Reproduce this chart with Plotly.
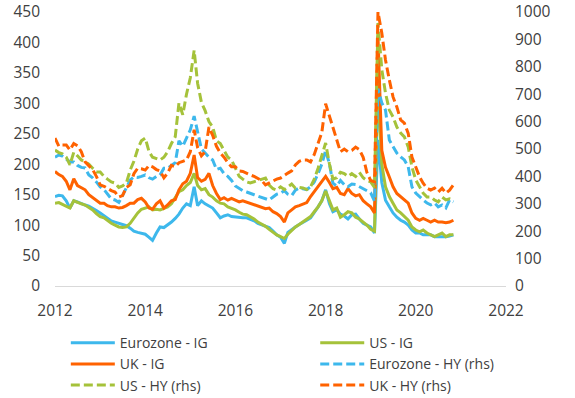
import pandas as pd
import plotly.graph_objects as go

dates = pd.date_range("2012-01-01", periods=107, freq="MS")

ez_ig = [147, 149, 148, 140, 128, 140, 138, 135, 133, 131, 128, 124, 120, 116, 111, 107, 105, 103, 101, 99,
         95, 90, 88, 86, 85, 80, 75, 87, 97, 96, 100, 105, 111, 118, 128, 135, 132, 163, 132, 140,
         135, 131, 128, 120, 112, 115, 117, 114, 113, 112, 112, 112, 110, 107, 103, 101, 99, 96, 90, 84,
         80, 70, 88, 93, 97, 101, 104, 108, 112, 120, 130, 140, 158, 135, 122, 125, 118, 115, 110, 117,
         118, 110, 103, 100, 97, 87, 240, 170, 141, 130, 120, 113, 108, 105, 100, 92, 87, 87, 84, 84,
         84, 81, 81, 80, 81, 82, 84]
us_ig = [136, 137, 134, 131, 128, 140, 137, 135, 133, 129, 125, 119, 114, 112, 107, 103, 100, 97, 96, 97,
         103, 112, 120, 126, 128, 130, 125, 126, 125, 128, 130, 135, 145, 155, 158, 165, 170, 185, 165, 158,
         160, 150, 146, 140, 136, 135, 130, 128, 125, 121, 118, 117, 114, 110, 105, 102, 98, 93, 88, 84,
         81, 78, 85, 92, 97, 101, 105, 109, 114, 122, 130, 140, 156, 140, 125, 128, 113, 117, 122, 120,
         113, 110, 105, 100, 93, 90, 330, 200, 163, 147, 136, 125, 120, 114, 108, 97, 92, 89, 92, 87,
         84, 81, 84, 87, 81, 84, 84]
uk_ig = [188, 183, 180, 172, 158, 176, 165, 162, 158, 150, 145, 141, 136, 136, 132, 130, 130, 128, 129, 132,
         136, 136, 142, 144, 138, 128, 126, 135, 140, 128, 133, 140, 142, 158, 168, 172, 185, 215, 178, 172,
         175, 185, 165, 152, 142, 145, 141, 144, 141, 138, 140, 138, 136, 134, 131, 130, 127, 128, 122, 119,
         114, 105, 120, 125, 130, 132, 134, 137, 147, 155, 163, 170, 180, 170, 160, 162, 152, 150, 160, 152,
         148, 150, 140, 135, 130, 120, 410, 223, 195, 179, 163, 152, 147, 141, 136, 120, 111, 108, 111, 108,
         105, 108, 105, 105, 104, 105, 108]
ez_hy = [470, 478, 474, 462, 453, 453, 440, 433, 431, 405, 395, 380, 362, 352, 335, 318, 314, 305, 330, 360,
         387, 398, 396, 400, 405, 395, 390, 400, 405, 430, 430, 440, 450, 530, 510, 540, 570, 620, 560, 500,
         485, 470, 460, 425, 430, 410, 400, 385, 365, 355, 348, 343, 339, 333, 328, 323, 318, 314, 325, 335,
         339, 348, 335, 330, 350, 358, 355, 352, 362, 380, 410, 445, 495, 445, 375, 365, 385, 370, 362, 372,
         370, 362, 355, 348, 340, 310, 720, 668, 642, 533, 507, 485, 471, 460, 435, 362, 339, 325, 314, 303,
         296, 303, 289, 296, 285, 314, 307]
us_hy = [496, 487, 482, 470, 442, 488, 475, 460, 453, 445, 430, 416, 416, 400, 390, 380, 376, 360, 365, 376,
         423, 455, 500, 530, 540, 490, 470, 465, 460, 470, 490, 520, 545, 668, 625, 700, 760, 860, 740, 670,
         640, 600, 580, 530, 520, 495, 470, 460, 430, 400, 390, 380, 376, 380, 386, 390, 394, 368, 355, 350,
         362, 352, 360, 372, 357, 360, 358, 352, 362, 390, 430, 475, 522, 445, 390, 395, 415, 410, 400, 410,
         400, 415, 395, 385, 380, 360, 960, 790, 704, 642, 617, 580, 558, 544, 507, 435, 387, 362, 339, 325,
         325, 314, 307, 325, 314, 318, 314]
uk_hy = [540, 510, 515, 515, 496, 520, 512, 490, 453, 440, 425, 400, 369, 364, 355, 348, 343, 325, 330, 360,
         369, 410, 430, 428, 423, 440, 435, 425, 420, 395, 412, 440, 435, 450, 455, 460, 490, 570, 505, 475,
         490, 580, 550, 510, 485, 470, 450, 435, 435, 420, 418, 410, 405, 400, 392, 385, 369, 376, 382, 390,
         394, 405, 412, 420, 442, 455, 460, 460, 453, 480, 520, 560, 665, 620, 580, 535, 490, 500, 490, 495,
         507, 498, 470, 415, 385, 380, 1000, 923, 825, 752, 690, 653, 606, 594, 557, 471, 435, 398, 375, 357,
         350, 357, 343, 357, 339, 350, 369]

BLUE = "#3DB8EC"
GREEN = "#A5C23A"
ORANGE = "#FF6200"
TXT = "#404040"
FONT = "Open Sans"

fig = go.Figure()
series = [
    ("Eurozone - IG", ez_ig, BLUE, "solid", "y", "legend"),
    ("US - IG", us_ig, GREEN, "solid", "y", "legend2"),
    ("UK - IG", uk_ig, ORANGE, "solid", "y", "legend"),
    ("Eurozone - HY (rhs)", ez_hy, BLUE, "9px,4px", "y2", "legend2"),
    ("US - HY (rhs)", us_hy, GREEN, "9px,4px", "y2", "legend"),
    ("UK - HY (rhs)", uk_hy, ORANGE, "9px,4px", "y2", "legend2"),
]
for name, vals, col, dash, ax, lg in series:
    fig.add_trace(go.Scatter(x=dates, y=vals, name=name, mode="lines", yaxis=ax, legend=lg,
                             line=dict(color=col, width=3, dash=dash)))

leg_common = dict(orientation="v", yanchor="top", xanchor="left", itemwidth=44,
                  font=dict(size=14, color=TXT), bgcolor="rgba(0,0,0,0)",
                  tracegroupgap=0, traceorder="normal")

fig.update_layout(
    width=575, height=398,
    margin=dict(l=55, r=69, t=12, b=112, autoexpand=False),
    paper_bgcolor="white", plot_bgcolor="white",
    font=dict(family=FONT, size=15.5, color=TXT),
    showlegend=True,
    legend=dict(x=0.024, y=-0.150, **leg_common),
    legend2=dict(x=0.577, y=-0.150, **leg_common),
    xaxis=dict(type="date", range=["2012-01-01", "2022-01-01"], dtick="M24",
               tick0="2012-01-01", tickformat="%Y", showgrid=False, zeroline=False,
               showline=True, linecolor="#D9D9D9", linewidth=1, ticks="",
               ticklabelstandoff=10),
    yaxis=dict(range=[0, 450], dtick=50, showgrid=False, zeroline=False, showline=False,
               ticks="", ticklabelstandoff=14, ticklabeloverflow="allow"),
    yaxis2=dict(range=[0, 1000], dtick=100, overlaying="y", side="right", showgrid=False,
                zeroline=False, showline=False, ticks="", ticklabelstandoff=8,
                ticklabeloverflow="allow"),
)

fig.write_html("out.html", config={"displayModeBar": False},
               post_script="document.body.style.margin='0';document.body.style.overflow='hidden';")
